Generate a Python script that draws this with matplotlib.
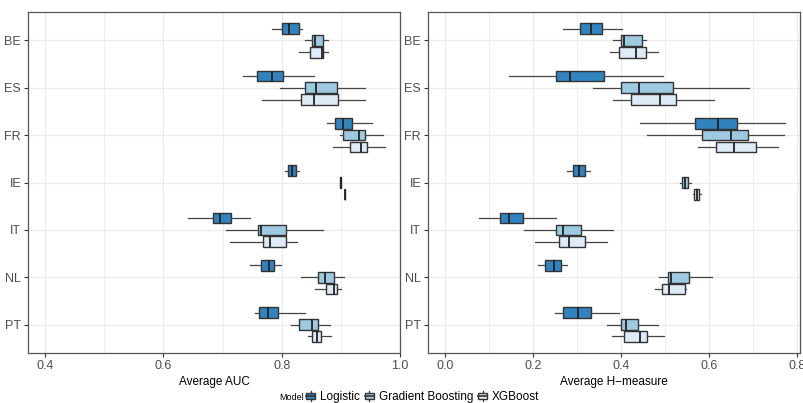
import matplotlib
matplotlib.use("Agg")
import matplotlib.pyplot as plt
from matplotlib.patches import Patch, Rectangle
from matplotlib.lines import Line2D
from matplotlib.legend_handler import HandlerBase
import numpy as np

plt.rcParams['font.family'] = ['Liberation Sans', 'DejaVu Sans']

countries = ['BE', 'ES', 'FR', 'IE', 'IT', 'NL', 'PT']
models = ['Logistic', 'Gradient Boosting', 'XGBoost']
colors = ['#3182BD', '#9ECAE1', '#DEEBF7']

# (whisker low, q1, median, q3, whisker high) per country
auc_logistic = [(0.783, 0.801, 0.812, 0.830, 0.835), (0.735, 0.759, 0.783, 0.802, 0.854),
                (0.877, 0.890, 0.904, 0.918, 0.953), (0.806, 0.811, 0.817, 0.824, 0.830),
                (0.641, 0.684, 0.696, 0.715, 0.746), (0.746, 0.765, 0.778, 0.787, 0.798),
                (0.754, 0.762, 0.777, 0.794, 0.839)]
auc_gb = [(0.840, 0.851, 0.856, 0.870, 0.878), (0.797, 0.840, 0.858, 0.893, 0.940),
          (0.899, 0.904, 0.931, 0.941, 0.971), (0.8985, 0.8990, 0.8995, 0.9002, 0.9008),
          (0.706, 0.760, 0.765, 0.808, 0.870), (0.833, 0.862, 0.874, 0.889, 0.906),
          (0.815, 0.830, 0.851, 0.862, 0.881)]
auc_xgb = [(0.829, 0.848, 0.868, 0.869, 0.878), (0.766, 0.833, 0.854, 0.896, 0.940),
           (0.887, 0.916, 0.934, 0.945, 0.974), (0.9058, 0.9062, 0.9065, 0.9068, 0.9072),
           (0.713, 0.769, 0.780, 0.808, 0.825), (0.857, 0.875, 0.888, 0.894, 0.901),
           (0.845, 0.851, 0.859, 0.867, 0.883)]

hm_logistic = [(0.267, 0.306, 0.331, 0.356, 0.402), (0.146, 0.251, 0.285, 0.362, 0.495),
               (0.444, 0.569, 0.620, 0.663, 0.772), (0.278, 0.290, 0.305, 0.317, 0.329),
               (0.077, 0.124, 0.146, 0.178, 0.252), (0.212, 0.226, 0.248, 0.263, 0.277),
               (0.249, 0.269, 0.303, 0.331, 0.395)]
hm_gb = [(0.381, 0.400, 0.406, 0.448, 0.456), (0.336, 0.400, 0.440, 0.519, 0.692),
         (0.460, 0.585, 0.649, 0.688, 0.770), (0.533, 0.538, 0.546, 0.553, 0.560),
         (0.180, 0.253, 0.269, 0.309, 0.381), (0.486, 0.506, 0.514, 0.554, 0.607),
         (0.369, 0.400, 0.411, 0.439, 0.485)]
hm_xgb = [(0.376, 0.395, 0.434, 0.456, 0.484), (0.381, 0.422, 0.489, 0.526, 0.612),
          (0.574, 0.616, 0.657, 0.707, 0.757), (0.563, 0.567, 0.572, 0.578, 0.582),
          (0.205, 0.259, 0.282, 0.317, 0.369), (0.478, 0.494, 0.510, 0.546, 0.548),
          (0.380, 0.406, 0.443, 0.459, 0.497)]

auc_ticks = [0.4, 0.6, 0.8, 1.0]
hm_ticks = [0.0, 0.2, 0.4, 0.6, 0.8]

edge = '#333333'
grid_c = '#EBEBEB'
txt_c = '#4D4D4D'


class BoxKey(HandlerBase):
    # small vertical boxplot glyph, like ggplot's key
    def create_artists(self, legend, orig_handle, xdescent, ydescent, width, height,
                       fontsize, trans):
        cx = width / 2 - xdescent
        w = height * 0.95
        y0 = -ydescent
        box = Rectangle((cx - w / 2, y0 + height * 0.2), w, height * 0.6,
                        facecolor=orig_handle.get_facecolor(), edgecolor=edge,
                        linewidth=1.0, transform=trans)
        wl = Line2D([cx, cx], [y0 - height * 0.05, y0 + height * 1.05], color=edge,
                    linewidth=0.9, transform=trans)
        med = Line2D([cx - w / 2, cx + w / 2], [y0 + height * 0.5] * 2, color=edge,
                     linewidth=1.2, transform=trans)
        return [wl, box, med]


def draw_panel(ax, series, xlim, ticks, xlabel):
    base = np.arange(len(countries), 0, -1)  # BE on top
    offsets = [0.25, 0.0, -0.25]
    for vals, off, col in zip(series, offsets, colors):
        stats = [dict(whislo=v[0], q1=v[1], med=v[2], q3=v[3], whishi=v[4], fliers=[])
                 for v in vals]
        ax.bxp(stats, positions=base + off, widths=0.225, orientation='horizontal',
               patch_artist=True, showcaps=False, showfliers=False,
               boxprops=dict(facecolor=col, edgecolor=edge, linewidth=1.0),
               whiskerprops=dict(color='#444444', linewidth=0.9),
               medianprops=dict(color='#222222', linewidth=1.3), manage_ticks=False)
    ax.set_xlim(*xlim)
    ax.set_ylim(0.4, 7.6)
    ax.set_xticks(ticks)
    ax.set_xticklabels([f'{t:.1f}' for t in ticks])
    minor = [(a + b) / 2 for a, b in zip(ticks[:-1], ticks[1:])]
    ax.set_xticks(minor, minor=True)
    ax.set_yticks(base)
    ax.set_yticklabels(countries)
    ax.grid(True, which='major', color=grid_c, linewidth=0.9)
    ax.grid(True, which='minor', axis='x', color=grid_c, linewidth=0.6)
    ax.set_axisbelow(True)
    ax.tick_params(which='major', length=3, color='#333333', labelcolor=txt_c,
                   labelsize=9, pad=2)
    ax.tick_params(which='minor', length=0)
    for s in ax.spines.values():
        s.set_color('#555555')
        s.set_linewidth(0.9)
    ax.set_xlabel(xlabel, fontsize=8.5, color='black', labelpad=3)


fig = plt.figure(figsize=(8.04, 4.03), dpi=100)
ax1 = fig.add_axes([28 / 804, 50 / 403, 372 / 804, 341 / 403])
ax2 = fig.add_axes([428 / 804, 50 / 403, 372 / 804, 341 / 403])

draw_panel(ax1, [auc_logistic, auc_gb, auc_xgb], (0.371, 1.0), auc_ticks, 'Average AUC')
draw_panel(ax2, [hm_logistic, hm_gb, hm_xgb], (-0.039, 0.807), hm_ticks, 'Average H\u2212measure')

handles = [Patch(facecolor=c, edgecolor=edge, linewidth=1.0) for c in colors]
fig.text(292 / 804, 1 - 397 / 403, 'Model', fontsize=6.5, va='center', ha='center')
fig.legend(handles, models, loc='center', bbox_to_anchor=(422 / 804, 1 - 397 / 403),
           ncol=3, frameon=False, fontsize=8.5, handlelength=1.0, handleheight=0.8,
           handletextpad=0.3, columnspacing=0.3, borderpad=0,
           handler_map={Patch: BoxKey()})

fig.savefig('out.png', dpi=100)
